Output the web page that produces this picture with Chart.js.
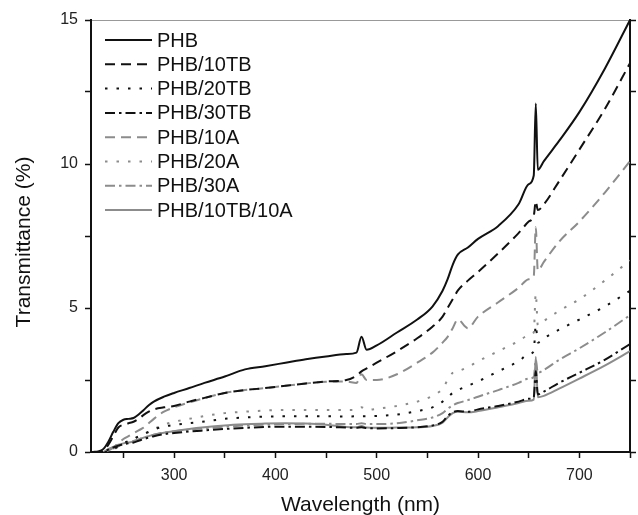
<!DOCTYPE html>
<html>
<head>
<meta charset="utf-8">
<style>
  html, body { margin: 0; padding: 0; background: #fff; }
  #wrap { width: 638px; height: 515px; }
</style>
</head>
<body>
<div id="wrap"><canvas id="chart" width="638" height="515"></canvas></div>
<script src="https://cdn.jsdelivr.net/npm/chart.js@4.4.1/dist/chart.umd.min.js"></script>
<script>
// wavelength grid (nm), shared by all series
const wavelengths = [220, 225, 230, 235, 240, 245, 250, 255, 260, 265, 270, 275, 280, 290, 300, 315, 330, 350, 370, 390,
  410, 430, 450, 470, 480, 485, 490, 500, 520, 540, 555, 565, 570, 575, 580, 590, 600, 620, 640, 650,
  655, 657, 659, 665, 680, 700, 725, 750];

// transmittance (%)
const phb = [0, 0.02, 0.1, 0.35, 0.7, 1.0, 1.12, 1.15, 1.18, 1.3, 1.46, 1.62, 1.75, 1.92, 2.05, 2.22, 2.4, 2.62, 2.87, 2.98,
  3.1, 3.22, 3.32, 3.4, 3.45, 4.0, 3.55, 3.7, 4.15, 4.6, 5.05, 5.6, 6.0, 6.5, 6.85, 7.1, 7.4, 7.85, 8.6, 9.3,
  9.6, 12.1, 9.8, 10.1, 10.8, 11.8, 13.3, 15.0];
const phb10tb = [0, 0, 0.05, 0.25, 0.55, 0.85, 0.95, 1.0, 1.05, 1.15, 1.29, 1.4, 1.48, 1.55, 1.6, 1.75, 1.88, 2.05, 2.15, 2.22,
  2.3, 2.38, 2.45, 2.5, 2.65, 2.8, 2.9, 3.1, 3.5, 3.95, 4.35, 4.7, 5.0, 5.3, 5.6, 5.95, 6.25, 6.9, 7.6, 8.0,
  8.2, 8.7, 8.4, 8.6, 9.4, 10.5, 11.9, 13.5];
const phb20tb = [0, 0, 0, 0.02, 0.1, 0.2, 0.3, 0.38, 0.45, 0.55, 0.62, 0.7, 0.78, 0.88, 0.94, 1.0, 1.06, 1.15, 1.2, 1.23,
  1.24, 1.24, 1.24, 1.23, 1.24, 1.24, 1.24, 1.25, 1.3, 1.42, 1.55, 1.75, 1.9, 2.05, 2.15, 2.3, 2.45, 2.8, 3.15, 3.4,
  3.5, 4.4, 3.8, 3.95, 4.25, 4.6, 5.05, 5.6];
const phb30tb = [0, 0, 0, 0.08, 0.16, 0.22, 0.27, 0.3, 0.33, 0.39, 0.45, 0.5, 0.55, 0.62, 0.66, 0.71, 0.75, 0.8, 0.84, 0.87,
  0.88, 0.88, 0.87, 0.85, 0.84, 0.86, 0.83, 0.82, 0.83, 0.86, 0.92, 1.05, 1.25, 1.38, 1.42, 1.4, 1.48, 1.6, 1.75, 1.85,
  1.9, 2.8, 2.0, 2.1, 2.4, 2.75, 3.2, 3.75];
const phb10a = [0, 0, 0, 0.05, 0.15, 0.3, 0.45, 0.55, 0.65, 0.75, 0.85, 1.0, 1.15, 1.4, 1.55, 1.72, 1.87, 2.05, 2.15, 2.22,
  2.3, 2.38, 2.44, 2.45, 2.4, 2.7, 2.5, 2.5, 2.7, 3.1, 3.45, 3.8, 4.0, 4.3, 4.6, 4.3, 4.7, 5.2, 5.7, 6.0,
  6.1, 7.8, 6.3, 6.6, 7.3, 8.0, 9.0, 10.1];
const phb20a = [0, 0, 0, 0, 0.08, 0.18, 0.28, 0.36, 0.45, 0.54, 0.62, 0.71, 0.8, 0.95, 1.05, 1.15, 1.25, 1.35, 1.4, 1.44,
  1.46, 1.46, 1.46, 1.46, 1.46, 1.55, 1.46, 1.5, 1.6, 1.75, 1.95, 2.2, 2.5, 2.75, 2.8, 2.95, 3.15, 3.5, 3.85, 4.05,
  4.15, 5.5, 4.4, 4.55, 4.9, 5.3, 5.95, 6.65];
const phb30a = [0, 0, 0, 0.05, 0.12, 0.2, 0.27, 0.32, 0.38, 0.44, 0.5, 0.55, 0.6, 0.68, 0.72, 0.78, 0.82, 0.88, 0.92, 0.95,
  0.97, 0.98, 0.98, 0.97, 0.97, 1.0, 0.97, 0.97, 1.0, 1.1, 1.2, 1.35, 1.5, 1.62, 1.7, 1.8, 1.92, 2.15, 2.4, 2.55,
  2.6, 3.2, 2.75, 2.85, 3.2, 3.6, 4.15, 4.75];
const phb10tb10a = [0, 0, 0, 0.1, 0.18, 0.25, 0.3, 0.33, 0.36, 0.43, 0.5, 0.55, 0.6, 0.67, 0.72, 0.8, 0.86, 0.92, 0.96, 0.99,
  1.0, 0.99, 0.95, 0.87, 0.86, 0.9, 0.85, 0.84, 0.85, 0.86, 0.9, 1.02, 1.2, 1.35, 1.4, 1.38, 1.42, 1.55, 1.7, 1.78,
  1.82, 3.3, 1.9, 1.95, 2.2, 2.55, 3.0, 3.5];

const seriesNames = ['PHB', 'PHB/10TB', 'PHB/20TB', 'PHB/30TB', 'PHB/10A', 'PHB/20A', 'PHB/30A', 'PHB/10TB/10A'];
const seriesValues = [phb, phb10tb, phb20tb, phb30tb, phb10a, phb20a, phb30a, phb10tb10a];

const xTicks = [250, 300, 350, 400, 450, 500, 550, 600, 650, 700, 750];
const yTicks = [0, 2.5, 5, 7.5, 10, 12.5, 15];

const BLACK = '#111';
const GREY = '#8c8c8c';
const colors = [BLACK, BLACK, BLACK, BLACK, GREY, GREY, GREY, GREY];
const dashes = [[], [10, 6], [2.5, 9], [10, 4, 2.5, 4], [10, 6], [2.5, 9], [10, 4, 2.5, 4], []];
const FONT = '"Liberation Sans", Arial, Helvetica, sans-serif';

const datasets = seriesNames.map((name, i) => ({
  label: name,
  data: wavelengths.map((x, j) => ({ x, y: seriesValues[i][j] })),
  borderColor: colors[i],
  borderWidth: 2,
  borderDash: dashes[i],
  borderCapStyle: 'butt',
  pointRadius: 0,
  cubicInterpolationMode: 'monotone',
  xAxisID: 'x',
  yAxisID: 'y'
}));

// legend drawn inside the plot, top-left
const insideLegend = {
  id: 'insideLegend',
  afterDraw(chart) {
    const ctx = chart.ctx;
    ctx.save();
    ctx.font = '20px ' + FONT;
    ctx.textBaseline = 'middle';
    ctx.fillStyle = '#111';
    chart.data.datasets.forEach((ds, i) => {
      const y = 40 + i * 24.3;
      ctx.strokeStyle = ds.borderColor;
      ctx.lineWidth = 2;
      ctx.setLineDash(ds.borderDash);
      ctx.beginPath();
      ctx.moveTo(105, y);
      ctx.lineTo(152, y);
      ctx.stroke();
      ctx.setLineDash([]);
      ctx.fillText(ds.label, 157, y + 1);
    });
    ctx.restore();
  }
};

// y axis title (sits a bit below the centre in the original)
const yTitle = {
  id: 'yTitle',
  afterDraw(chart) {
    const ctx = chart.ctx;
    ctx.save();
    ctx.translate(24, 242);
    ctx.rotate(-Math.PI / 2);
    ctx.font = '21px ' + FONT;
    ctx.fillStyle = '#111';
    ctx.textAlign = 'center';
    ctx.textBaseline = 'middle';
    ctx.fillText('Transmittance (%)', 0, 0);
    ctx.restore();
  }
};

new Chart(document.getElementById('chart'), {
  type: 'line',
  data: { datasets },
  options: {
    responsive: false,
    animation: false,
    layout: { padding: 0 },
    plugins: { legend: { display: false }, tooltip: { enabled: false } },
    scales: {
      x: {
        type: 'linear', position: 'bottom', min: 218, max: 750,
        afterBuildTicks: s => { s.ticks = xTicks.map(v => ({ value: v })); },
        afterFit: s => { s.height = 63; },
        ticks: { callback: v => (v % 100 === 0 ? v : ''), autoSkip: false, maxRotation: 0, padding: 8,
                 color: '#222', font: { family: FONT, size: 16 } },
        grid: { drawOnChartArea: false, color: '#111', tickLength: 6, tickWidth: 1.5 },
        border: { color: '#111', width: 2 },
        title: { display: true, text: 'Wavelength (nm)', color: '#111', font: { family: FONT, size: 21 },
                 padding: { top: 0, bottom: -3 } }
      },
      x2: {
        type: 'linear', position: 'top', min: 218, max: 750,
        afterBuildTicks: s => { s.ticks = []; },
        afterFit: s => { s.height = 20; },
        ticks: { display: false },
        grid: { display: false },
        border: { color: '#999', width: 1 }
      },
      y: {
        type: 'linear', position: 'left', min: 0, max: 15,
        afterBuildTicks: s => { s.ticks = yTicks.map(v => ({ value: v })); },
        afterFit: s => { s.width = 91; },
        ticks: { callback: v => (v % 5 === 0 ? v : ''), padding: 7, color: '#222', font: { family: FONT, size: 16 } },
        grid: { drawOnChartArea: false, color: '#111', tickLength: 6, tickWidth: 1.5 },
        border: { color: '#111', width: 2 }
      },
      y2: {
        type: 'linear', position: 'right', min: 0, max: 15,
        afterBuildTicks: s => { s.ticks = yTicks.map(v => ({ value: v })); },
        afterFit: s => { s.width = 7; },
        ticks: { display: false },
        grid: { drawOnChartArea: false, color: '#111', tickLength: 6, tickWidth: 1.5 },
        border: { color: '#111', width: 2 }
      }
    }
  },
  plugins: [insideLegend, yTitle]
});
</script>
</body>
</html>
